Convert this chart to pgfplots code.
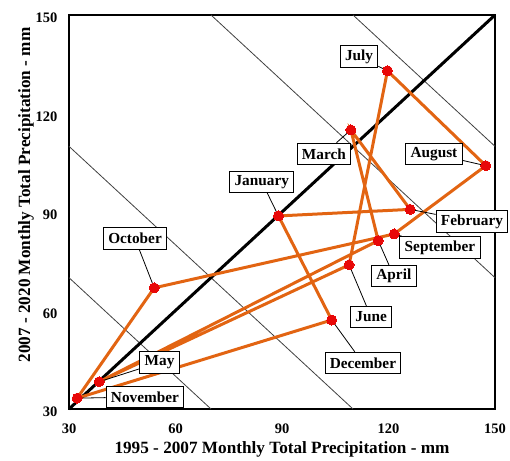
\documentclass[border=0pt]{standalone}
\usepackage{pgfplots}
\pgfplotsset{compat=1.18}
\usepackage{fontspec}
\setmainfont{Liberation Serif}
\definecolor{lineor}{RGB}{226,100,18}
\definecolor{markred}{RGB}{232,8,8}
\tikzset{lbl/.style={draw=black, fill=white, line width=0.9pt, inner xsep=4.8pt,
    inner ysep=0pt, minimum height=21.5pt,
    font=\fontsize{15.3}{17}\selectfont\bfseries}}
\begin{document}
\begin{tikzpicture}
\begin{axis}[
  scale only axis, width=426pt, height=394pt,
  xmin=30, xmax=150, ymin=30, ymax=150,
  xtick={30,60,90,120,150}, ytick={30,60,90,120,150},
  major tick length=0pt,
  /pgf/number format/assume math mode=true,
  ticklabel style={font=\fontsize{14.5}{16}\selectfont\bfseries},
  xticklabel style={yshift=-11pt},
  yticklabel style={xshift=-8pt, yshift=-3pt},
  xlabel={1995 - 2007 Monthly Total Precipitation - mm},
  ylabel={2007 - 2020 Monthly Total Precipitation - mm},
  label style={font=\fontsize{17.2}{19}\selectfont\bfseries},
  xlabel style={at={(axis description cs:0.5,0)}, anchor=center, yshift=-40pt},
  ylabel style={at={(axis description cs:0,0.543)}, anchor=center, yshift=43pt},
  axis line style={line width=2.6pt},
  clip=false,
]
\coordinate (ll) at (rel axis cs:0,0);
\coordinate (ur) at (rel axis cs:1,1);
% constant-sum reference lines
\addplot[color=black!75, line width=0.8pt] coordinates {(30,70) (70,30)};
\addplot[color=black!75, line width=0.8pt] coordinates {(30,110) (110,30)};
\addplot[color=black!75, line width=0.8pt] coordinates {(70,150) (150,70)};
\addplot[color=black!75, line width=0.8pt] coordinates {(110,150) (150,110)};
% 1:1 line
\addplot[black, line width=3pt] coordinates {(30,30) (150,150)};
% monthly data (Jan..Dec, back to Jan)
\addplot[lineor, line width=3pt, mark=*, mark size=5pt,
  mark options={fill=markred, draw=markred, line width=0pt}] coordinates {
  (89.0,88.8)   % January
  (126.1,90.8)  % February
  (109.4,115.0) % March
  (117.1,81.3)  % April
  (38.5,38.3)   % May
  (108.9,73.9)  % June
  (119.7,133.0) % July
  (147.4,104.1) % August
  (121.6,83.3)  % September
  (54.0,66.9)   % October
  (32.3,33.3)   % November
  (104.0,57.1)  % December
  (89.0,88.8)   % January
};
% labels
\node[lbl] (jan) at (axis cs:84.3,99.2) {January};
\draw[line width=0.8pt] (axis cs:89.0,88.8) -- (jan);
\node[lbl] (feb) at (axis cs:143.5,87.1) {February};
\draw[line width=0.8pt] (axis cs:126.1,90.8) -- (feb);
\node[lbl] (mar) at (axis cs:101.8,107.7) {March};
\draw[line width=0.8pt] (axis cs:109.4,115.0) -- (mar);
\node[lbl] (apr) at (axis cs:121.5,70.5) {April};
\draw[line width=0.8pt] (axis cs:117.1,81.3) -- (apr);
\node[lbl] (may) at (axis cs:55.5,44.2) {May};
\draw[line width=0.8pt] (axis cs:38.5,38.3) -- (may);
\node[lbl] (jun) at (axis cs:115.1,58.0) {June};
\draw[line width=0.8pt] (axis cs:108.9,73.9) -- (jun);
\node[lbl] (jul) at (axis cs:111.7,137.3) {July};
\draw[line width=0.8pt] (axis cs:119.7,133.0) -- (jul);
\node[lbl] (aug) at (axis cs:132.8,107.7) {August};
\draw[line width=0.8pt] (axis cs:147.4,104.1) -- (aug);
\node[lbl] (sep) at (axis cs:134.5,79.2) {September};
\draw[line width=0.8pt] (axis cs:121.6,83.3) -- (sep);
\node[lbl] (oct) at (axis cs:48.6,81.9) {October};
\draw[line width=0.8pt] (axis cs:54.0,66.9) -- (oct);
\node[lbl] (nov) at (axis cs:51.4,33.7) {November};
\draw[line width=0.8pt] (axis cs:32.3,33.3) -- (nov);
\node[lbl] (dec) at (axis cs:112.8,44.0) {December};
\draw[line width=0.8pt] (axis cs:104.0,57.1) -- (dec);
\end{axis}
\pgfresetboundingbox
\path ([xshift=-69pt,yshift=-51pt]ll) rectangle ([xshift=15pt,yshift=15pt]ur);
\end{tikzpicture}
\end{document}
